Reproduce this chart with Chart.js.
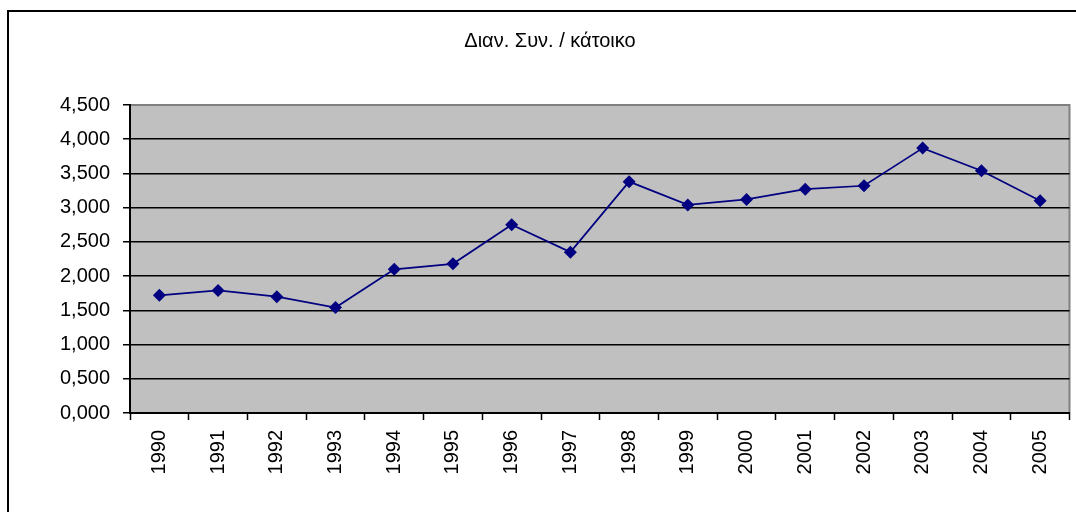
<!DOCTYPE html>
<html lang="el">
<head>
    <meta charset="UTF-8">
    <script src="https://cdn.jsdelivr.net/npm/chart.js"></script>
    <title>Διαν. Συν. / κάτοικο</title>
    <style>
        html, body { margin: 0; padding: 0; background: #fff; }
        #wrap { width: 1076px; height: 512px; }
    </style>
</head>
<body>
    <div id="wrap">
        <canvas id="chart" width="1076" height="512"></canvas>
    </div>

    <script>
        // data
        const years = ['1990', '1991', '1992', '1993', '1994', '1995', '1996', '1997',
                       '1998', '1999', '2000', '2001', '2002', '2003', '2004', '2005'];
        const perResident = [1.72, 1.79, 1.70, 1.54, 2.10, 2.18, 2.75, 2.35,
                             3.38, 3.04, 3.12, 3.27, 3.32, 3.87, 3.54, 3.10];
        const yTicks = [0, 0.5, 1, 1.5, 2, 2.5, 3, 3.5, 4, 4.5];
        const titleText = 'Διαν. Συν. / κάτοικο';

        const font = 'Liberation Sans, Arial, sans-serif';

        // grey plot area, outer frame and the title (centred on the frame, not the canvas)
        const frame = {
            id: 'frame',
            beforeDraw(chart) {
                const { ctx, chartArea: a } = chart;
                ctx.save();
                ctx.fillStyle = '#c0c0c0';
                ctx.fillRect(a.left, a.top, a.right - a.left, a.bottom - a.top);
                ctx.strokeStyle = '#808080';
                ctx.lineWidth = 2;
                ctx.strokeRect(a.left, a.top, a.right - a.left, a.bottom - a.top);
                ctx.restore();
            },
            afterDraw(chart) {
                const ctx = chart.ctx;
                ctx.save();
                ctx.strokeStyle = '#000';
                ctx.lineWidth = 2;
                ctx.strokeRect(8, 11, 1100, 600);
                ctx.fillStyle = '#000';
                ctx.font = '20px ' + font;
                ctx.textAlign = 'center';
                ctx.textBaseline = 'middle';
                ctx.fillText(titleText, 550, 41);
                ctx.restore();
            }
        };

        new Chart(document.getElementById('chart'), {
            type: 'line',
            data: {
                labels: years,
                datasets: [{
                    data: perResident,
                    borderColor: '#000080',
                    backgroundColor: '#000080',
                    borderWidth: 1.75,
                    pointStyle: 'rectRot',
                    pointRadius: 6.5,
                    pointBorderWidth: 0,
                    tension: 0
                }]
            },
            options: {
                responsive: false,
                animation: false,
                devicePixelRatio: 1,
                layout: { padding: { top: 105, left: 0, right: 2, bottom: 0 } },
                plugins: {
                    legend: { display: false },
                    tooltip: { enabled: false },
                    title: { display: false }
                },
                scales: {
                    x: {
                        offset: true,
                        grid: {
                            offset: true,
                            drawOnChartArea: false,
                            drawTicks: true,
                            tickLength: 7,
                            tickColor: '#000',
                            tickWidth: 1.5
                        },
                        border: { color: '#000', width: 2 },
                        ticks: {
                            color: '#000',
                            font: { family: font, size: 20 },
                            maxRotation: 90,
                            minRotation: 90,
                            padding: 10,
                            autoSkip: false
                        },
                        afterFit(scale) { scale.height = 99; }
                    },
                    y: {
                        min: 0,
                        max: 4.5,
                        afterBuildTicks(scale) {
                            scale.ticks = yTicks.map(v => ({ value: v }));
                        },
                        grid: {
                            color: c => (c.tick && c.tick.value === 4.5) ? '#808080' : '#000',
                            lineWidth: 1.5,
                            tickLength: 7,
                            tickColor: '#000'
                        },
                        border: { color: '#000', width: 2 },
                        ticks: {
                            color: '#000',
                            font: { family: font, size: 20 },
                            padding: 13,
                            callback: v => Number(v).toFixed(3).replace('.', ',')
                        },
                        afterFit(scale) { scale.width = 130; }
                    }
                }
            },
            plugins: [frame]
        });
    </script>
</body>
</html>
